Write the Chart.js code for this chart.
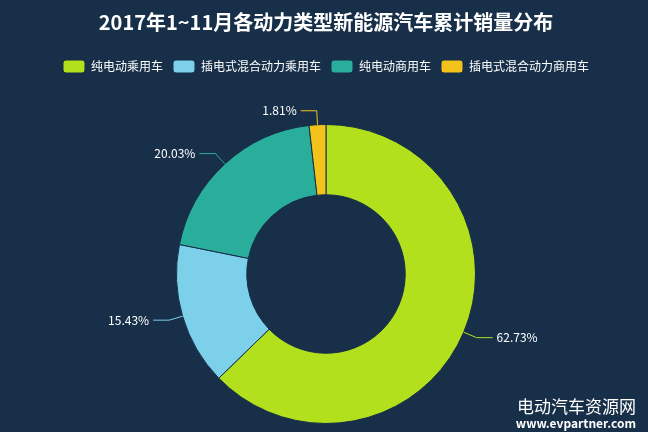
<!DOCTYPE html>
<html><head><meta charset="utf-8">
<script src="https://cdn.jsdelivr.net/npm/chart.js@4"></script>
<style>html,body{margin:0;padding:0;background:#172f48;}#w{width:648px;height:432px;position:relative}</style>
</head><body><div id="w"><canvas id="c" width="648" height="432"></canvas></div>
<script>
const categories=['纯电动乘用车','插电式混合动力乘用车','纯电动商用车','插电式混合动力商用车'];
const values=[62.73,15.43,20.03,1.81];
const colors=['#b3e01c','#7dd0ea','#2aae9c','#f3c31c'];
const F='"Noto Sans CJK SC","Noto Sans",sans-serif';
const spacer={id:'spacer',beforeLayout(ch){const l=ch.legend;if(l&&!l._patched){l._patched=true;const f=l.fit;l.fit=function(){f.call(this);this.height+=41;};}}};
const labelPlugin={id:'lbl',afterDatasetsDraw(ch){
 const ctx=ch.ctx;const meta=ch.getDatasetMeta(0);
 meta.data.forEach((a,i)=>{
  const m=(a.startAngle+a.endAngle)/2,r=a.outerRadius;
  const x1=a.x+Math.cos(m)*r,y1=a.y+Math.sin(m)*r;
  const x2=a.x+Math.cos(m)*(r+14),y2=a.y+Math.sin(m)*(r+14);
  const right=Math.cos(m)>=0;const x3=x2+(right?16:-16);
  ctx.save();ctx.strokeStyle=colors[i];ctx.lineWidth=1;ctx.beginPath();ctx.moveTo(x1,y1);ctx.lineTo(x2,y2);ctx.lineTo(x3,y2);ctx.stroke();
  ctx.fillStyle='#fff';ctx.font='12px '+F;ctx.textBaseline='middle';ctx.textAlign=right?'left':'right';
  ctx.fillText(values[i].toFixed(2)+'%',x3+(right?4:-4),y2);ctx.restore();
 });
 ctx.save();ctx.fillStyle='#fff';ctx.font='17px '+F;ctx.textAlign='right';ctx.fillText('电动汽车资源网',636,407);
 ctx.font='bold 12px '+F;ctx.fillText('www.evpartner.com',636,423);ctx.restore();
}};
new Chart(document.getElementById('c'),{type:'doughnut',
 data:{labels:categories,datasets:[{data:values,backgroundColor:colors,borderColor:'#172f48',borderWidth:1}]},
 options:{responsive:false,animation:false,cutout:'53%',
  layout:{padding:{top:0,bottom:8,left:4,right:0}},
  plugins:{tooltip:{enabled:false},
   title:{display:true,text:'2017年1~11月各动力类型新能源汽车累计销量分布',color:'#fff',font:{size:20,weight:'bold',family:F},padding:{top:10,bottom:16}},
   legend:{labels:{color:'#fff',font:{size:12,family:F},boxWidth:22,boxHeight:13,padding:10,useBorderRadius:true,borderRadius:3}}
 }},plugins:[spacer,labelPlugin]});
</script></body></html>
